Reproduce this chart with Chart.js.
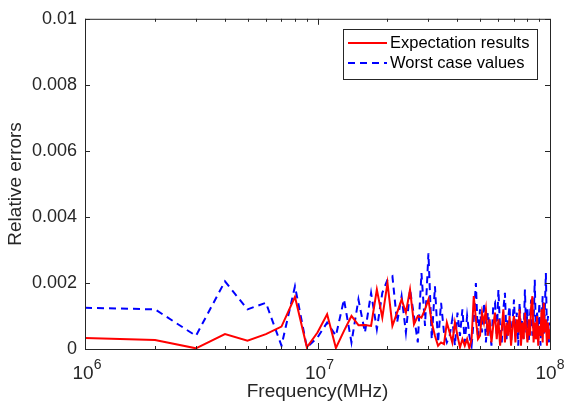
<!DOCTYPE html>
<html>
<head>
<meta charset="utf-8">
<script src="https://cdn.jsdelivr.net/npm/chart.js@4.4.1/dist/chart.umd.min.js"></script>
<style>
  html, body { margin: 0; padding: 0; background: #fff; }
  #wrap { width: 565px; height: 407px; }
</style>
</head>
<body>
<div id="wrap"><canvas id="grafico"></canvas></div>
<script>
// Dados (frequência em MHz, 1..100)
const freqMHz = [];
for (let k = 1; k <= 100; k++) freqMHz.push(k);

const expectation = [
  0.00033, 0.00027, 0.00002, 0.00045, 0.00025, 0.00045, 0.00068, 0.00158, 0.00005, 0.0005,
  0.00105, 0.00003, 0.00055, 0.001, 0.00072, 0.00073, 0.0007, 0.0018, 0.00095, 0.002,
  0.0007, 0.0011, 0.0015, 0.0011, 0.0018, 0.00075, 0.001, 0.00095, 0.0012, 0.0015,
  0.0008, 0.0004, 0.0001, 0.0002, 0.00015, 0.0008, 0.0005, 0.0002, 0.0008, 0.0004,
  0.00005, 0.0003, 0.0001, 0.0003, 0.00002, 0.0003, 0.0016, 0.0009, 0.0003, 0.0004,
  0.0011, 0.0008, 0.0012, 0.0004, 0.0009, 0.0002, 0.0007, 0.0011, 0.0003, 0.0009,
  0.0001, 0.0006, 0.0012, 0.0002, 0.0008, 0.0004, 0.001, 0.0001, 0.0007, 0.001,
  0.0002, 0.0009, 0.0005, 0.0012, 0.0001, 0.0008, 0.0003, 0.0011, 0.0006, 0.0002,
  0.0009, 0.0004, 0.0013, 0.0016, 0.0002, 0.0008, 0.0003, 0.001, 0.0001, 0.0007,
  0.0004, 0.0012, 0.0002, 0.0014, 0.0005, 0.0009, 0.0001, 0.0008, 0.0003, 0.0006
];

const worstCase = [
  0.00125, 0.0012, 0.0004, 0.00205, 0.0012, 0.0014, 0.0001, 0.0019, 0.00005, 0.00035,
  0.0008, 0.0004, 0.0015, 0.0002, 0.0015, 0.0005, 0.0017, 0.0006, 0.0017, 0.0021,
  0.0022, 0.0008, 0.0016, 0.0005, 0.0018, 0.001, 0.0002, 0.0023, 0.0007, 0.0029,
  0.0003, 0.0019, 0.0002, 0.0014, 0.0005, 0.0002, 0.0004, 0.0009, 0.0001, 0.0011,
  0.0004, 0.0012, 0.0002, 0.001, 0.0004, 0.0001, 0.0009, 0.002, 0.0003, 0.0012,
  0.0005, 0.0014, 0.0002, 0.0011, 0.0007, 0.0001, 0.0013, 0.0014, 0.0004, 0.0018,
  0.0006, 0.0002, 0.0012, 0.0017, 0.0003, 0.0009, 0.0013, 0.0002, 0.0008, 0.0015,
  0.0004, 0.0011, 0.0001, 0.0014, 0.0006, 0.0009, 0.0003, 0.0018, 0.0005, 0.0012,
  0.0002, 0.001, 0.0015, 0.0004, 0.0008, 0.0021, 0.0003, 0.0011, 0.0006, 0.0014,
  0.0001, 0.0009, 0.0016, 0.0004, 0.0012, 0.0023, 0.0005, 0.001, 0.0002, 0.0008
];

const yTicks = [0, 0.002, 0.004, 0.006, 0.008, 0.01];
const xDecades = [1e6, 1e7, 1e8];
const xExpoentes = ['6', '7', '8'];
const nomesSeries = ['Expectation results', 'Worst case values'];

const corTexto = '#262626';
const fonte = 'Liberation Sans, Arial, sans-serif';

function pontos(vals) {
  return freqMHz.map((f, i) => ({ x: f * 1e6, y: vals[i] }));
}

// Caixa, marcas internas, rótulos 10^n e legenda (estilo MATLAB)
const estiloMatlab = {
  id: 'estiloMatlab',
  afterDraw(chart) {
    const ctx = chart.ctx;
    const a = chart.chartArea;
    const sx = chart.scales.x;
    const sy = chart.scales.y;
    ctx.save();
    ctx.strokeStyle = corTexto;
    ctx.lineWidth = 1;
    ctx.strokeRect(a.left + 0.5, a.top + 0.5, a.right - a.left, a.bottom - a.top);

    ctx.beginPath();
    // marcas do eixo x (décadas e menores)
    for (let d = 1e6; d < 1e8; d *= 10) {
      for (let m = 1; m <= 9; m++) {
        const px = Math.round(sx.getPixelForValue(d * m)) + 0.5;
        const len = m === 1 ? 6 : 3;
        ctx.moveTo(px, a.bottom); ctx.lineTo(px, a.bottom - len);
        ctx.moveTo(px, a.top); ctx.lineTo(px, a.top + len);
      }
    }
    // marcas do eixo y
    yTicks.forEach(v => {
      const py = Math.round(sy.getPixelForValue(v)) + 0.5;
      ctx.moveTo(a.left, py); ctx.lineTo(a.left + 5, py);
      ctx.moveTo(a.right, py); ctx.lineTo(a.right - 5, py);
    });
    ctx.stroke();

    // rótulos 10^n
    ctx.fillStyle = corTexto;
    ctx.textBaseline = 'alphabetic';
    xDecades.forEach((v, i) => {
      const px = sx.getPixelForValue(v);
      ctx.font = '19px ' + fonte;
      const wBase = ctx.measureText('10').width;
      ctx.font = '14px ' + fonte;
      const wExp = ctx.measureText(xExpoentes[i]).width;
      const x0 = px - (wBase + wExp) / 2 + (i === 2 ? 0 : 2);
      ctx.font = '19px ' + fonte;
      ctx.textAlign = 'left';
      ctx.fillText('10', x0, a.bottom + 30);
      ctx.font = '14px ' + fonte;
      ctx.fillText(xExpoentes[i], x0 + wBase, a.bottom + 20);
    });

    // legenda
    const bx = 343, by = 29, bw = 194, bh = 50;
    ctx.fillStyle = '#ffffff';
    ctx.fillRect(bx, by, bw, bh);
    ctx.strokeStyle = corTexto;
    ctx.strokeRect(bx + 0.5, by + 0.5, bw, bh);
    chart.data.datasets.forEach((ds, i) => {
      const ly = by + 14 + i * 20;
      ctx.beginPath();
      ctx.strokeStyle = ds.borderColor;
      ctx.lineWidth = 2;
      ctx.setLineDash(ds.borderDash || []);
      ctx.moveTo(bx + 5, ly); ctx.lineTo(bx + 44, ly);
      ctx.stroke();
      ctx.setLineDash([]);
      ctx.fillStyle = '#000';
      ctx.font = '16.5px ' + fonte;
      ctx.textAlign = 'left';
      ctx.textBaseline = 'middle';
      ctx.fillText(ds.label, bx + 47, ly);
    });
    ctx.restore();
  }
};

new Chart(document.getElementById('grafico'), {
  type: 'line',
  data: {
    datasets: [
      {
        label: nomesSeries[0],
        data: pontos(expectation),
        borderColor: '#ff0000',
        borderWidth: 2,
        pointRadius: 0,
        tension: 0,
        fill: false
      },
      {
        label: nomesSeries[1],
        data: pontos(worstCase),
        borderColor: '#0000ff',
        borderWidth: 2,
        borderDash: [7, 5],
        pointRadius: 0,
        tension: 0,
        fill: false
      }
    ]
  },
  options: {
    responsive: true,
    maintainAspectRatio: false,
    animation: false,
    layout: { padding: { left: 0, top: 16, right: 15, bottom: 0 } },
    plugins: {
      legend: { display: false },
      tooltip: { enabled: false }
    },
    scales: {
      x: {
        type: 'logarithmic',
        min: 1e6,
        max: 1e8,
        grid: { display: false, drawTicks: false },
        border: { display: false },
        ticks: { display: false },
        title: {
          display: true,
          text: 'Frequency(MHz)',
          color: corTexto,
          font: { family: fonte, size: 19 },
          padding: { top: 0, bottom: 4 }
        },
        afterFit: s => { s.height = 58; }
      },
      y: {
        min: 0,
        max: 0.01,
        grid: { display: false, drawTicks: false },
        border: { display: false },
        afterBuildTicks: s => { s.ticks = yTicks.map(v => ({ value: v })); },
        ticks: {
          color: corTexto,
          font: { family: fonte, size: 18 },
          padding: 8,
          callback: v => String(+v.toFixed(3))
        },
        title: {
          display: true,
          text: 'Relative errors',
          color: corTexto,
          font: { family: fonte, size: 19 },
          padding: { top: 4, bottom: 0 }
        },
        afterFit: s => { s.width = 85; }
      }
    }
  },
  plugins: [estiloMatlab]
});
</script>
</body>
</html>
